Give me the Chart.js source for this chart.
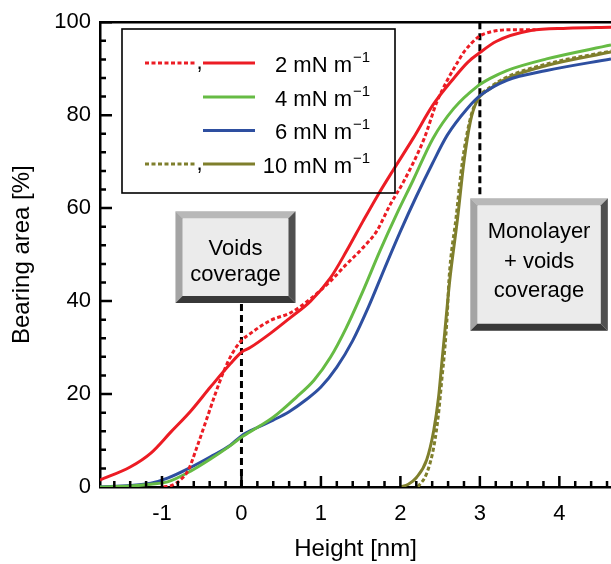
<!DOCTYPE html>
<html><head><meta charset="utf-8">
<script src="https://cdn.jsdelivr.net/npm/chart.js@4.4.1/dist/chart.umd.min.js"></script>
<style>html,body{margin:0;padding:0;background:#fff}</style>
</head><body>
<canvas id="c" width="611" height="564"></canvas>
<script>
const xTicks = [-1, 0, 1, 2, 3, 4];
const yTicks = [0, 20, 40, 60, 80, 100];
const legendLabels = ['2 mN m', '4 mN m', '6 mN m', '10 mN m'];
const legendSup = '\u22121';
const voidsText = ['Voids', 'coverage'];
const monoText = ['Monolayer', '+ voids', 'coverage'];

const red2SolidX = [-1.78,-1.40,-1.14,-0.89,-0.64,-0.39,-0.14,0.00,0.11,0.36,0.62,0.87,1.12,1.32,1.53,1.72,1.91,2.16,2.41,2.67,2.85,2.98,3.21,3.64,4.10,4.65];
const red2SolidY = [1.5,4.3,7.3,11.8,16.3,21.5,26.5,29.0,30.0,33.0,36.5,40.0,45.0,50.7,57.2,62.9,68.2,75.0,82.2,87.9,91.4,93.2,95.9,98.2,98.7,98.9];

const red2DotX = [-0.98,-0.87,-0.77,-0.67,-0.56,-0.43,-0.33,-0.22,-0.12,0.00,0.11,0.36,0.62,0.87,1.12,1.32,1.53,1.70,1.87,2.04,2.30,2.46,2.59,2.72,2.80,2.98,3.13,3.42,3.70];
const red2DotY = [0,0.4,1.5,3.6,8.6,15.0,20.0,25.0,28.6,31.5,33.0,35.8,37.5,40.5,44.3,47.9,51.5,55.0,60.7,65.7,75.0,82.9,87.5,91.4,93.6,96.8,97.9,98.4,98.4];

const green4X = [-1.78,-1.40,-1.14,-0.93,-0.64,-0.39,-0.14,0.00,0.20,0.40,0.69,0.91,1.12,1.32,1.53,1.74,1.95,2.16,2.41,2.67,2.96,3.13,3.34,3.84,4.65];
const green4Y = [0,0.2,0.6,1.1,3.4,6.0,8.9,10.7,12.8,15.0,19.3,22.9,27.9,34.3,42.2,50.7,58.6,66.0,75.0,81.4,86.1,87.9,89.6,92.1,95.1];

const blue6X = [-1.78,-1.40,-1.14,-0.93,-0.64,-0.39,-0.14,0.00,0.20,0.40,0.60,0.80,1.00,1.20,1.40,1.60,1.80,2.00,2.20,2.40,2.59,2.84,3.01,3.34,3.84,4.65];
const blue6Y = [0,0.3,0.8,1.9,4.2,6.5,9.0,11.0,12.8,14.4,16.2,18.6,21.5,25.8,31.5,38.8,47.0,55.0,62.5,69.5,75.7,81.4,84.3,87.5,89.6,92.1];

const olive10SolidX = [2.00,2.10,2.20,2.33,2.42,2.48,2.52,2.56,2.62,2.72,2.80,2.88,2.96,3.13,3.34,3.84,4.65];
const olive10SolidY = [0,0.6,2.0,5.8,12.2,19.3,26.5,33.6,44.3,57.9,70.0,78.6,82.9,85.7,87.9,90.7,93.6];

const olive10DotX = [2.22,2.33,2.42,2.48,2.52,2.56,2.59,2.61,2.70,2.78,2.87,2.96,3.13,3.34,3.84,4.65];
const olive10DotY = [0,2.9,8.6,15.8,22.9,30.0,37.2,44.3,57.9,70.0,78.6,83.2,86.0,88.2,91.0,93.8];

const RED = '#ec1c24', GREEN = '#66bb44', BLUE = '#2e4fa0', OLIVE = '#7f7f2c';
const FONT = '"Liberation Sans", Arial, Helvetica, sans-serif';
const pts = (xs, ys) => xs.map((x, i) => ({x: x, y: ys[i]}));

const voidsBox = {x0: -0.83, x1: 0.68, y0: 59.3, y1: 39.6};
const monoBox = {x0: 2.88, x1: 4.61, y0: 62.1, y1: 33.6};

function bevelBox(ctx, X0, Y0, X1, Y1, lines, baselines, cx) {
  const b = 7;
  ctx.save();
  ctx.fillStyle = '#ebebeb'; ctx.fillRect(X0, Y0, X1 - X0, Y1 - Y0);
  const poly = (c, p) => { ctx.fillStyle = c; ctx.beginPath(); ctx.moveTo(p[0], p[1]); for (let i = 2; i < p.length; i += 2) ctx.lineTo(p[i], p[i+1]); ctx.closePath(); ctx.fill(); };
  poly('#b8b8b8', [X0,Y0, X1,Y0, X1-b,Y0+b, X0+b,Y0+b]);
  poly('#a4a4a4', [X0,Y0, X0+b,Y0+b, X0+b,Y1-b, X0,Y1]);
  poly('#383838', [X0,Y1, X0+b,Y1-b, X1-b,Y1-b, X1,Y1]);
  poly('#505050', [X1,Y0, X1,Y1, X1-b,Y1-b, X1-b,Y0+b]);
  ctx.fillStyle = '#000'; ctx.font = '22px ' + FONT; ctx.textAlign = 'center'; ctx.textBaseline = 'alphabetic';
  lines.forEach((t, i) => ctx.fillText(t, cx, baselines[i]));
  ctx.restore();
}

const decor = {
  id: 'decor',
  beforeDatasetsDraw(chart) {
    const {ctx, scales: {x, y}} = chart;
    ctx.save();
    ctx.strokeStyle = '#000'; ctx.lineWidth = 3; ctx.setLineDash([7, 4]);
    ctx.beginPath();
    ctx.moveTo(x.getPixelForValue(0), y.getPixelForValue(0));
    ctx.lineTo(x.getPixelForValue(0), y.getPixelForValue(voidsBox.y1));
    ctx.moveTo(x.getPixelForValue(3), y.getPixelForValue(100));
    ctx.lineTo(x.getPixelForValue(3), y.getPixelForValue(monoBox.y0));
    ctx.stroke();
    ctx.restore();
  },
  afterDraw(chart) {
    const {ctx, chartArea: ca, scales: {x, y}} = chart;
    ctx.save();
    ctx.strokeStyle = '#000'; ctx.lineWidth = 2.5; ctx.setLineDash([]);
    ctx.beginPath(); ctx.moveTo(ca.left, ca.top); ctx.lineTo(ca.right, ca.top); ctx.stroke();
    ctx.beginPath();
    for (let i = -8; i <= 23; i++) {
      const v = i / 5; const px = x.getPixelForValue(v);
      if (px < ca.left + 2 || px > ca.right) continue;
      const len = (i % 5 === 0) ? 11 : 6;
      ctx.moveTo(px, ca.bottom); ctx.lineTo(px, ca.bottom - len);
    }
    for (let i = 1; i <= 25; i++) {
      const v = i * 4; const py = y.getPixelForValue(v);
      const len = (i % 5 === 0) ? 12 : 6;
      ctx.moveTo(ca.left, py); ctx.lineTo(ca.left + len, py);
    }
    ctx.stroke();

    const L = {x0: 122, y0: 29, x1: 395, y1: 193};
    ctx.lineWidth = 1.6; ctx.strokeStyle = '#000';
    ctx.strokeRect(L.x0, L.y0, L.x1 - L.x0, L.y1 - L.y0);
    const rows = [63, 97, 130.5, 164];
    const cols = [RED, GREEN, BLUE, OLIVE];
    const dotted = [true, false, false, true];
    rows.forEach((ry, i) => {
      ctx.lineWidth = 3; ctx.strokeStyle = cols[i];
      if (dotted[i]) {
        ctx.setLineDash([4, 2.5]);
        ctx.beginPath(); ctx.moveTo(145, ry); ctx.lineTo(197, ry); ctx.stroke();
        ctx.setLineDash([]);
        ctx.fillStyle = '#000'; ctx.font = '22px ' + FONT; ctx.textAlign = 'center'; ctx.textBaseline = 'alphabetic';
        ctx.fillText(',', 199.5, ry + 6);
      }
      ctx.setLineDash([]);
      ctx.beginPath(); ctx.moveTo(203, ry); ctx.lineTo(255, ry); ctx.stroke();
      ctx.fillStyle = '#000'; ctx.font = '22px ' + FONT; ctx.textAlign = 'right'; ctx.textBaseline = 'alphabetic';
      ctx.fillText(legendLabels[i], 352, ry + 8.5);
      ctx.font = '15px ' + FONT; ctx.textAlign = 'left';
      ctx.fillText(legendSup, 353, ry - 1.5);
    });
    ctx.restore();

    const vx0 = x.getPixelForValue(voidsBox.x0), vx1 = x.getPixelForValue(voidsBox.x1);
    const vy0 = y.getPixelForValue(voidsBox.y0), vy1 = y.getPixelForValue(voidsBox.y1);
    bevelBox(ctx, vx0, vy0, vx1, vy1, voidsText, [vy0 + 44, vy0 + 70], (vx0 + vx1) / 2);
    const mx0 = x.getPixelForValue(monoBox.x0), mx1 = x.getPixelForValue(monoBox.x1);
    const my0 = y.getPixelForValue(monoBox.y0), my1 = y.getPixelForValue(monoBox.y1);
    bevelBox(ctx, mx0, my0, mx1, my1, monoText, [my0 + 40, my0 + 70, my0 + 99], (mx0 + mx1) / 2);
  }
};

new Chart(document.getElementById('c'), {
  type: 'scatter',
  data: {
    datasets: [
      {data: pts(red2DotX, red2DotY), borderColor: RED, borderDash: [4, 2.5]},
      {data: pts(red2SolidX, red2SolidY), borderColor: RED},
      {data: pts(green4X, green4Y), borderColor: GREEN},
      {data: pts(blue6X, blue6Y), borderColor: BLUE},
      {data: pts(olive10SolidX, olive10SolidY), borderColor: OLIVE},
      {data: pts(olive10DotX, olive10DotY), borderColor: OLIVE, borderDash: [4, 2.5]}
    ].map(d => Object.assign({showLine: true, fill: false, borderWidth: 3, pointRadius: 0, cubicInterpolationMode: 'monotone'}, d))
  },
  options: {
    responsive: false, animation: false, devicePixelRatio: 1,
    layout: {padding: {top: 12, right: 0, bottom: 0, left: 0}},
    plugins: {legend: {display: false}, tooltip: {enabled: false}},
    scales: {
      x: {
        type: 'linear', min: -1.78, max: 4.65,
        afterBuildTicks(s) { s.ticks = xTicks.map(v => ({value: v})); },
        afterFit(s) { s.height = 77; },
        grid: {display: false, drawTicks: false},
        border: {display: true, color: '#000', width: 2.5},
        ticks: {color: '#000', font: {family: FONT, size: 22}, padding: 14, maxRotation: 0, autoSkip: false, callback: v => String(v)},
        title: {display: true, text: 'Height [nm]', color: '#000', font: {family: FONT, size: 24}, padding: {top: 0, bottom: 0}}
      },
      y: {
        type: 'linear', min: 0, max: 100,
        afterBuildTicks(s) { s.ticks = yTicks.map(v => ({value: v})); },
        afterFit(s) { s.width = 100; },
        grid: {display: false, drawTicks: false},
        border: {display: true, color: '#000', width: 2.5},
        ticks: {color: '#000', font: {family: FONT, size: 22}, padding: 9, autoSkip: false, callback: v => String(v)},
        title: {display: true, text: 'Bearing area [%]', color: '#000', font: {family: FONT, size: 24}, padding: {top: 8, bottom: 0}}
      }
    }
  },
  plugins: [decor]
});
</script>
</body></html>
